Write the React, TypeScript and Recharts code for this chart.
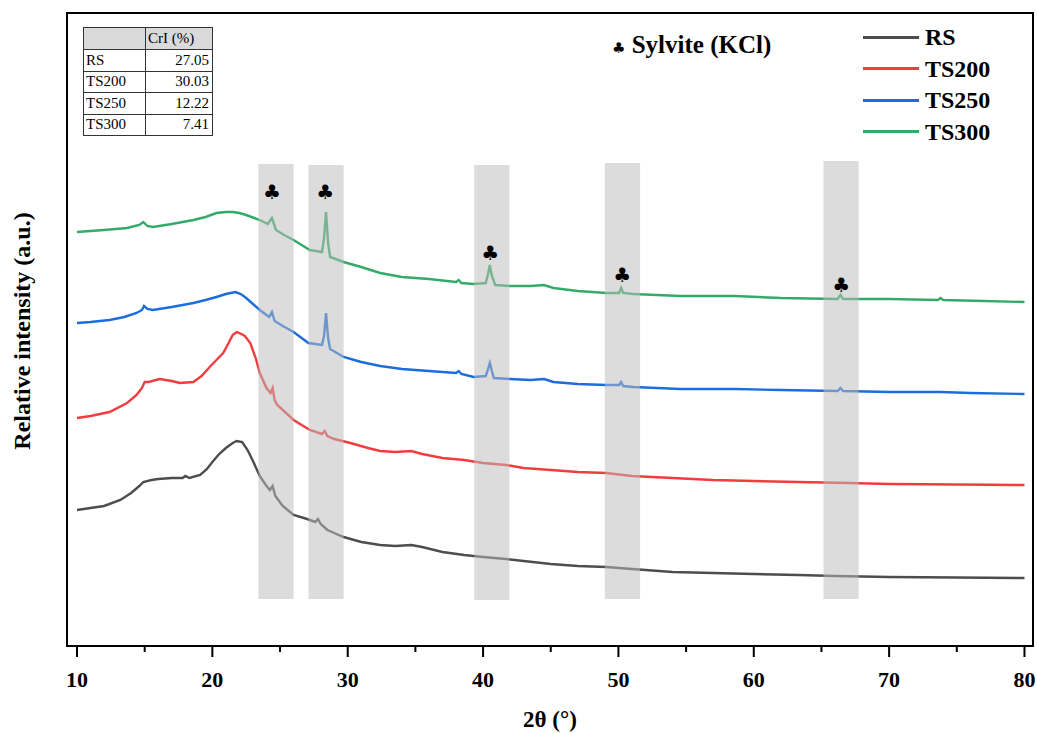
import React from 'react'
import {
  ComposedChart,
  Line,
  Scatter,
  XAxis,
  YAxis,
  ReferenceArea,
} from 'recharts'

// 2θ (deg) and relative intensity (a.u., offset stacked)
const rsPoints: [number, number][] = [
  [10, 138], [11, 140], [12, 142], [13.2, 148], [14, 155], [14.6, 162], [14.9, 166], [15.5, 168],
  [16, 169], [17, 170], [17.8, 170], [18, 172], [18.3, 170], [19.1, 173], [19.6, 179], [20, 186],
  [20.5, 194], [21, 200], [21.5, 205], [21.8, 207], [22.2, 206], [22.6, 198], [23, 187], [23.5, 172],
  [24, 162], [24.25, 158], [24.45, 162], [24.65, 152], [25.2, 142], [26, 133], [27, 129], [27.6, 126],
  [27.8, 129], [28, 124], [28.5, 118], [29, 115], [29.7, 111], [31, 106], [32.4, 103], [33.5, 102],
  [34.7, 103], [35.5, 101], [37, 96], [38.6, 93], [40, 91], [41.7, 89], [43, 87], [45, 84], [47, 82],
  [49.1, 81], [51, 79], [54, 76], [57, 75], [60, 74], [63.3, 73], [66, 72], [70, 71], [75, 70.5], [80, 70],
]

const ts200Points: [number, number][] = [
  [10, 230], [11, 232], [12.4, 236], [13.7, 245], [14.4, 253], [14.8, 260], [15, 266], [15.3, 266],
  [16.1, 269], [17, 267], [17.6, 265], [18.6, 266], [19.2, 272], [19.8, 281], [20.3, 288], [20.8, 295],
  [21.2, 305], [21.5, 313], [21.8, 316], [22, 315], [22.4, 312], [22.8, 305], [23.2, 290], [23.5, 275],
  [24, 260], [24.3, 255], [24.45, 260], [24.6, 248], [24.8, 243], [26, 228], [27.2, 218], [28.1, 214],
  [28.3, 217], [28.5, 212], [29, 209], [30.2, 205], [31.5, 200], [32.4, 197], [33.5, 196], [34.7, 197],
  [35.5, 194], [37, 190], [38.6, 188], [40, 185], [41.7, 183], [43, 180], [45, 178], [47, 176],
  [49.1, 175], [51, 172], [54, 170], [57, 168], [60, 167], [63.3, 166], [67, 165], [70, 164],
  [75, 163.5], [80, 163],
]

const ts250Points: [number, number][] = [
  [10, 325], [11, 326], [12.4, 328], [13.5, 331], [14.4, 335], [14.8, 338], [14.95, 342], [15.2, 339],
  [15.6, 338], [17, 341], [18.6, 345], [19.5, 348], [20.3, 351], [21, 354], [21.7, 356], [22.1, 354],
  [22.5, 350], [23, 344], [23.5, 338], [24.2, 331], [24.4, 336], [24.6, 327], [25.2, 322], [26, 316],
  [27.1, 305], [28.1, 303], [28.25, 312], [28.4, 335], [28.55, 310], [28.7, 299], [29.7, 291],
  [31, 286], [32.4, 282], [34, 279], [36, 277], [38, 275], [38.2, 277], [38.4, 274], [39.3, 271],
  [40.2, 272], [40.35, 278], [40.5, 285], [40.65, 277], [40.8, 270], [42, 269], [43.5, 268],
  [44.5, 269], [45.2, 266], [47, 264], [49.1, 263], [50.05, 263], [50.2, 266], [50.35, 262],
  [51.1, 261], [54.6, 259], [58.6, 259], [62, 258], [66.2, 257], [66.4, 260], [66.6, 257], [70, 256],
  [73.8, 256], [76, 255], [80, 254],
]

const ts300Points: [number, number][] = [
  [10, 416], [12, 418], [13.7, 420], [14.6, 423], [14.9, 426], [15.2, 422], [15.6, 421], [17, 424],
  [18.6, 428], [19.5, 431], [20.3, 435], [21, 436], [21.5, 436], [22, 435], [22.5, 433], [23.5, 428],
  [24.1, 424], [24.3, 428], [24.4, 430], [24.55, 424], [24.7, 418], [25.3, 413], [26, 408], [27.2, 398],
  [28.1, 396], [28.25, 410], [28.4, 436], [28.55, 405], [28.7, 391], [29.7, 386], [31, 381],
  [32.4, 375], [34, 371], [36, 369], [38, 366], [38.2, 368], [38.4, 365], [39.3, 364], [40.2, 365],
  [40.35, 373], [40.5, 383], [40.65, 372], [40.9, 363], [42, 362], [43.5, 362], [44.5, 363],
  [45.2, 360], [47, 357], [49.1, 355], [50.05, 355], [50.2, 360], [50.35, 355], [51.1, 354],
  [54.6, 352], [58.6, 352], [62, 350], [66.2, 349], [66.4, 353], [66.6, 349], [70, 349], [73.6, 348],
  [73.8, 350], [74, 348], [77, 347], [80, 346],
]

// KCl peak bands [x1, x2, yBottom, yTop]
const bands: [number, number, number, number][] = [
  [23.4, 26.0, 49, 484],
  [27.1, 29.7, 49, 483],
  [39.35, 41.95, 48, 483],
  [49.0, 51.6, 49, 485],
  [65.15, 67.75, 49, 487],
]

const clubMarks = [
  { x: 24.41, y: 456 },
  { x: 28.33, y: 456 },
  { x: 40.52, y: 395 },
  { x: 50.28, y: 373 },
  { x: 66.47, y: 363 },
]

const xTicks = [10, 15, 20, 25, 30, 35, 40, 45, 50, 55, 60, 65, 70, 75, 80]
const xDomain = [9.26, 80.63]
const yDomain = [2, 635]

const sampleNames = ['RS', 'TS200', 'TS250', 'TS300']
const sampleColors = ['#4d4d4d', '#f23c40', '#1b6ddd', '#34aa69']
const crIndex = ['27.05', '30.03', '12.22', '7.41']

const serif = "'Liberation Serif', 'Times New Roman', serif"

const toRows = (pts: [number, number][]) => pts.map(([x, y]) => ({ x, y }))
const series = [rsPoints, ts200Points, ts250Points, ts300Points].map(toRows)

function AxisTick(props: any) {
  const { x, y, payload } = props
  const major = payload.value % 10 === 0
  return (
    <g>
      <line x1={x} y1={y} x2={x} y2={y + (major ? 11 : 6)} stroke="#000" strokeWidth={2} />
      {major && (
        <text x={x} y={y + 41} textAnchor="middle" fontFamily={serif} fontWeight="bold" fontSize={22} fill="#000">
          {payload.value}
        </text>
      )}
    </g>
  )
}

function Club(props: any) {
  const { cx, cy } = props
  return (
    <text x={cx} y={cy + 7} textAnchor="middle" fontFamily="'DejaVu Sans', sans-serif" fontSize={20} fill="#000">
      ♣
    </text>
  )
}

export default function App() {
  return (
    <div style={{ position: 'absolute', left: 0, top: 0, width: 1037, height: 733, background: '#fff' }}>
      <ComposedChart width={1037} height={733} margin={{ top: 13, right: 4, left: 66, bottom: 0 }}>
        <XAxis
          type="number"
          dataKey="x"
          domain={xDomain}
          ticks={xTicks}
          interval={0}
          tickSize={0}
          tickMargin={0}
          tick={<AxisTick />}
          height={87}
          axisLine={{ stroke: '#000', strokeWidth: 2 }}
          allowDataOverflow
          label={{
            content: () => (
              <text x={550} y={727} textAnchor="middle" fontFamily={serif} fontWeight="bold" fontSize={23} fill="#000">
                2θ (°)
              </text>
            ),
          }}
        />
        <YAxis
          type="number"
          domain={yDomain}
          width={1}
          tick={false}
          tickLine={false}
          axisLine={{ stroke: '#000', strokeWidth: 2 }}
          allowDataOverflow
          label={{
            content: () => (
              <text
                x={30}
                y={331}
                transform="rotate(-90 30 331)"
                textAnchor="middle"
                fontFamily={serif}
                fontWeight="bold"
                fontSize={24}
                fill="#000"
              >
                Relative intensity (a.u.)
              </text>
            ),
          }}
        />
        {series.map((rows, i) => (
          <Line
            key={sampleNames[i]}
            data={rows}
            dataKey="y"
            type="linear"
            stroke={sampleColors[i]}
            strokeWidth={2.4}
            dot={false}
            isAnimationActive={false}
          />
        ))}
        {bands.map(([x1, x2, y1, y2], i) => (
          <ReferenceArea
            key={i}
            x1={x1}
            x2={x2}
            y1={y1}
            y2={y2}
            fill="#bcbcbc"
            fillOpacity={0.52}
            stroke="none"
            zIndex={450}
          />
        ))}
        {/* plot frame */}
        <ReferenceArea
          x1={xDomain[0]}
          x2={xDomain[1]}
          y1={yDomain[0]}
          y2={yDomain[1]}
          fill="none"
          stroke="#000"
          strokeWidth={2}
          zIndex={460}
        />
        <Scatter data={clubMarks} dataKey="y" shape={<Club />} isAnimationActive={false} />
      </ComposedChart>

      <table
        style={{
          position: 'absolute',
          left: 83,
          top: 27,
          borderCollapse: 'collapse',
          fontFamily: serif,
          fontSize: 15,
          color: '#000',
        }}
      >
        <tbody>
          <tr style={{ height: 22, background: '#dadada' }}>
            <td style={{ width: 61, border: '1px solid #333', padding: 0 }}></td>
            <td style={{ width: 62, border: '1px solid #333', padding: '0 2px' }}>CrI (%)</td>
          </tr>
          {sampleNames.map((name, i) => (
            <tr key={name} style={{ height: 21.5 }}>
              <td style={{ border: '1px solid #333', padding: '0 2px', lineHeight: '19px' }}>{name}</td>
              <td style={{ border: '1px solid #333', padding: '0 3px', textAlign: 'right', lineHeight: '19px' }}>
                {crIndex[i]}
              </td>
            </tr>
          ))}
        </tbody>
      </table>

      <div
        style={{
          position: 'absolute',
          left: 612,
          top: 30,
          fontFamily: serif,
          fontWeight: 'bold',
          fontSize: 25,
          lineHeight: '30px',
          whiteSpace: 'nowrap',
        }}
      >
        <span style={{ fontFamily: "'DejaVu Sans', sans-serif", fontSize: 15 }}>♣</span> Sylvite (KCl)
      </div>

      {sampleNames.map((name, i) => (
        <div
          key={name}
          style={{ position: 'absolute', left: 863, top: 22 + i * 31.5, height: 30, display: 'flex', alignItems: 'center' }}
        >
          <div style={{ width: 56, height: 3, background: sampleColors[i] }} />
          <span
            style={{ marginLeft: 6, fontFamily: serif, fontWeight: 'bold', fontSize: 24, lineHeight: '30px', color: '#000' }}
          >
            {name}
          </span>
        </div>
      ))}
    </div>
  )
}
